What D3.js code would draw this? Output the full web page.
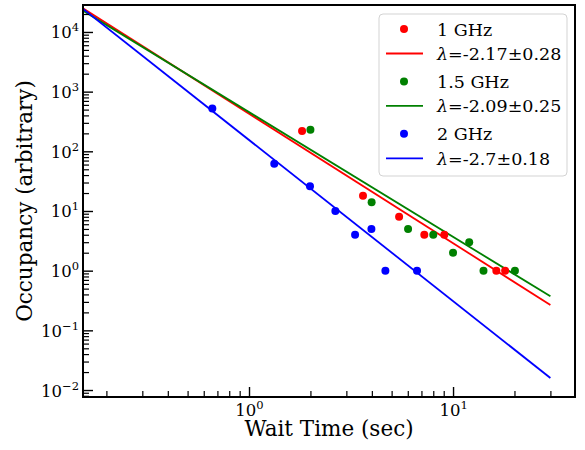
<!DOCTYPE html>
<html>
<head>
<meta charset="utf-8">
<script src="https://cdn.jsdelivr.net/npm/d3@7"></script>
<style>
  body { margin: 0; background: #fff; }
  text { font-family: "DejaVu Serif", serif; fill: #000; }
</style>
</head>
<body>
<div id="chart"></div>
<script>
// data
const seriesNames = ["1 GHz", "1.5 GHz", "2 GHz"];

const wait1GHz = [1.82, 3.62, 5.44, 7.23, 9.06, 16.3, 18.0];
const occ1GHz  = [220, 18, 8, 4, 4, 1, 1];

const wait15GHz = [2.0, 3.99, 6.02, 8.0, 10.0, 12.0, 14.1, 20.1];
const occ15GHz  = [230, 14, 5, 4, 2, 3, 1, 1];

const wait2GHz = [0.661, 1.33, 1.99, 2.65, 3.31, 3.98, 4.66, 6.66];
const occ2GHz  = [520, 62, 26, 10, 4, 5, 1, 1];

// power law fits: occ = amp * t^lambda
const fitLambda = [-2.17, -2.09, -2.7];
const fitErr    = [0.28, 0.25, 0.18];
const fitAmp    = [427, 454, 155];
const fitRange  = [0.1, 30];

const xTickMajors = [1, 10];
const yTickMajors = [1e-2, 1e-1, 1, 10, 100, 1e3, 1e4];

const colors = ["#ff0000", "#008000", "#0000ff"];

const W = 585, H = 450;
const margin = {top: 5, right: 10, bottom: 53, left: 83};
const iw = W - margin.left - margin.right;
const ih = H - margin.top - margin.bottom;

const svg = d3.select("#chart").append("svg")
  .attr("width", W).attr("height", H);

const x = d3.scaleLog().domain([0.1536, 39.6]).range([0, iw]);
const y = d3.scaleLog().domain([0.00764, 28300]).range([ih, 0]);

const g = svg.append("g").attr("transform", `translate(${margin.left},${margin.top})`);

g.append("clipPath").attr("id", "clip")
  .append("rect").attr("width", iw).attr("height", ih);

const plot = g.append("g").attr("clip-path", "url(#clip)");

const series = [
  {t: wait1GHz, o: occ1GHz},
  {t: wait15GHz, o: occ15GHz},
  {t: wait2GHz, o: occ2GHz}
];

const line = d3.line().x(d => x(d[0])).y(d => y(d[1]));

series.forEach((s, i) => {
  const pts = fitRange.map(t => [t, fitAmp[i] * Math.pow(t, fitLambda[i])]);
  plot.append("path").datum(pts)
    .attr("fill", "none").attr("stroke", colors[i]).attr("stroke-width", 1.8)
    .attr("d", line);
});

series.forEach((s, i) => {
  plot.selectAll(null).data(s.t.map((t, k) => [t, s.o[k]])).enter()
    .append("circle")
    .attr("cx", d => x(d[0])).attr("cy", d => y(d[1]))
    .attr("r", 4).attr("fill", colors[i]);
});

// minor tick lists
function minors(domain) {
  const out = [];
  const lo = Math.floor(Math.log10(domain[0])), hi = Math.ceil(Math.log10(domain[1]));
  for (let e = lo; e <= hi; e++) {
    for (let m = 2; m <= 9; m++) {
      const v = m * Math.pow(10, e);
      if (v >= domain[0] && v <= domain[1]) out.push(v);
    }
  }
  return out;
}

function powLabel(sel, v) {
  const e = Math.round(Math.log10(v));
  sel.text(null);
  sel.append("tspan").text("10");
  sel.append("tspan").attr("dy", -7).attr("font-size", "11.5px")
    .text(String(e).replace("-", "\u2212"));
}

// x axis (ticks inward)
const xAxis = d3.axisBottom(x).tickValues(xTickMajors).tickSizeInner(-10).tickSizeOuter(0).tickFormat("");
const xa = g.append("g").attr("transform", `translate(0,${ih})`).call(xAxis);
xa.select(".domain").remove();
xa.selectAll(".tick line").attr("stroke-width", 1.4);
xa.selectAll(".tick").append("text")
  .attr("y", 19).attr("text-anchor", "middle").attr("font-size", "16.5px")
  .each(function(d) { powLabel(d3.select(this), d); });

const xMinor = d3.axisBottom(x).tickValues(minors(x.domain())).tickSizeInner(-6).tickSizeOuter(0).tickFormat("");
const xm = g.append("g").attr("transform", `translate(0,${ih})`).call(xMinor);
xm.select(".domain").remove();
xm.selectAll(".tick line").attr("stroke-width", 1.2);

// y axis (ticks inward)
const yAxis = d3.axisLeft(y).tickValues(yTickMajors).tickSizeInner(-10).tickSizeOuter(0).tickFormat("");
const ya = g.append("g").call(yAxis);
ya.select(".domain").remove();
ya.selectAll(".tick line").attr("stroke-width", 1.4);
ya.selectAll(".tick").append("text")
  .attr("x", -4).attr("y", 6).attr("text-anchor", "end").attr("font-size", "16.5px")
  .each(function(d) { powLabel(d3.select(this), d); });

const yMinor = d3.axisLeft(y).tickValues(minors(y.domain())).tickSizeInner(-6).tickSizeOuter(0).tickFormat("");
const ym = g.append("g").call(yMinor);
ym.select(".domain").remove();
ym.selectAll(".tick line").attr("stroke-width", 1.2);

// frame
g.append("rect").attr("width", iw).attr("height", ih)
  .attr("fill", "none").attr("stroke", "#000").attr("stroke-width", 2);

// axis titles
svg.append("text")
  .attr("x", margin.left + iw / 2).attr("y", 436)
  .attr("text-anchor", "middle").attr("font-size", "21.5px")
  .text("Wait Time (sec)");

svg.append("text")
  .attr("transform", `translate(32,${margin.top + ih / 2}) rotate(-90)`)
  .attr("text-anchor", "middle").attr("font-size", "21.5px")
  .text("Occupancy (arbitrary)");

// legend
const lg = svg.append("g").attr("transform", "translate(379,14)");
lg.append("rect").attr("width", 188).attr("height", 162).attr("rx", 4)
  .attr("fill", "#fff").attr("fill-opacity", 0.8)
  .attr("stroke", "#d3d3d3").attr("stroke-width", 1);

seriesNames.forEach((name, i) => {
  const y0 = 15 + i * 52.4;
  const y1 = y0 + 24.5;
  lg.append("circle").attr("cx", 25).attr("cy", y0).attr("r", 4).attr("fill", colors[i]);
  lg.append("text").attr("x", 58).attr("y", y0 + 6.5).attr("font-size", "17.5px").text(name);
  lg.append("line").attr("x1", 7).attr("x2", 44).attr("y1", y1).attr("y2", y1)
    .attr("stroke", colors[i]).attr("stroke-width", 1.8);
  const t = lg.append("text").attr("x", 58).attr("y", y1 + 6.5).attr("font-size", "17.5px");
  t.append("tspan").attr("font-style", "italic").text("\u03bb");
  t.append("tspan").text(`=${fitLambda[i]}\u00b1${fitErr[i]}`);
});
</script>
</body>
</html>
